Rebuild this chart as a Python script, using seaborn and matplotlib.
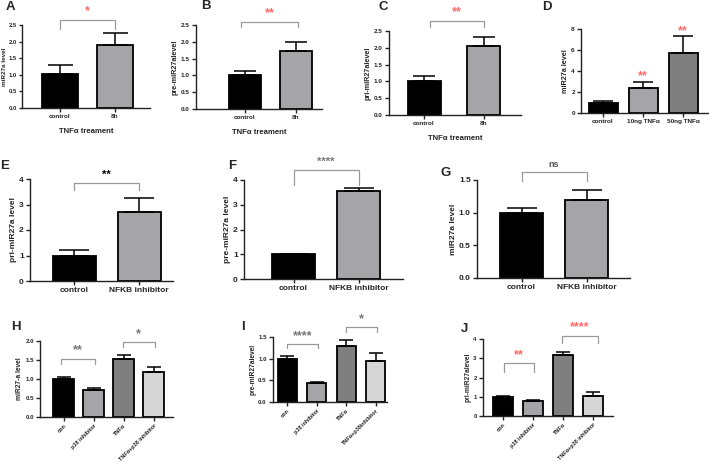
import numpy as np
import matplotlib
matplotlib.use("Agg")
import matplotlib.pyplot as plt
import seaborn as sns

sns.set_style("ticks")
plt.rcParams["font.family"] = ["Liberation Sans", "DejaVu Sans"]
plt.rcParams["font.weight"] = "bold"
plt.rcParams["axes.labelweight"] = "bold"

W, H = 709, 462

# ---------------- data ----------------
cats_2 = ["control", "8h"]
a_vals = [1.02, 1.90]; a_err = [0.27, 0.37]
b_vals = [1.00, 1.73]; b_err = [0.13, 0.25]
c_vals = [1.00, 2.05]; c_err = [0.15, 0.27]

cats_d = ["control", "10ng TNFα", "50ng TNFα"]
d_vals = [1.00, 2.40, 5.70]; d_err = [0.15, 0.55, 1.60]

cats_nf = ["control", "NFKB inhibitor"]
e_vals = [1.00, 2.70]; e_err = [0.20, 0.55]
f_vals = [1.00, 3.57]; f_err = [0.03, 0.12]
g_vals = [1.00, 1.20]; g_err = [0.07, 0.14]

cats_h = ["con", "p38 inhibitor", "TNFα", "TNFα+p38 inhibitor"]
cats_i = ["con", "p38 inhibitor", "TNFα", "TNFα+p38inhibitor"]
h_vals = [1.00, 0.70, 1.52, 1.18]; h_err = [0.06, 0.06, 0.10, 0.13]
i_vals = [1.00, 0.43, 1.30, 0.95]; i_err = [0.06, 0.03, 0.13, 0.19]
j_vals = [1.00, 0.77, 3.17, 1.03]; j_err = [0.05, 0.04, 0.15, 0.20]

BLACK = "#000000"
GRAY = "#a5a5a8"
DARK = "#7f7f80"
LIGHT = "#d6d6d6"
RED = "#ff6b6b"
BRK = "#9a9a9a"

fig = plt.figure(figsize=(W / 100, H / 100), dpi=100)


def panel(x0, x1, y0, ytop, centers, wpx, cats, vals, errs, colors, ymax,
          yticks, fmt, ylabel, xlabel=None, fs=4.6, lfs=5.2, rot=False,
          brackets=(), stars=(), sfs=9, ylx=None, yfs=None, tlen=3, tpad=1.5):
    rect = [x0 / W, 1 - y0 / H, (x1 - x0) / W, (y0 - ytop) / H]
    ax = fig.add_axes(rect)
    n = len(cats)
    unit = (centers[-1] - centers[0]) / (n - 1)
    left = -(centers[0] - x0) / unit
    right = (n - 1) + (x1 - centers[-1]) / unit
    bw = wpx / unit
    sns.barplot(x=cats, y=vals, hue=cats, palette=colors, legend=False,
                width=bw, edgecolor="black", linewidth=1.3, ax=ax,
                errorbar=None, saturation=1)
    ax.errorbar(np.arange(n), vals, yerr=[np.zeros(n), errs], fmt="none",
                ecolor="black", elinewidth=1.1, capsize=wpx * 0.25,
                capthick=1.1, zorder=1)
    ax.set_xlim(left, right)
    ax.set_ylim(0, ymax)
    ax.set_yticks(yticks)
    ax.set_yticklabels([fmt.format(t) for t in yticks],
                       fontsize=yfs if yfs else fs, fontweight="bold")
    ax.set_xticks(np.arange(n))
    if rot:
        ax.set_xticklabels(cats, fontsize=fs - 0.4, fontweight="bold",
                           rotation=45, ha="right", rotation_mode="anchor")
    else:
        ax.set_xticklabels(cats, fontsize=fs, fontweight="bold")
    ax.set_ylabel(ylabel, fontsize=lfs, fontweight="bold", labelpad=1.5)
    if ylx is not None:
        ax.yaxis.set_label_coords((ylx - x0) / (x1 - x0), 0.5)
        ax.yaxis.label.set_va("center")
    if xlabel:
        ax.set_xlabel(xlabel, fontsize=fs + 1, fontweight="bold", labelpad=6)
    else:
        ax.set_xlabel("")
    for s in ["top", "right"]:
        ax.spines[s].set_visible(False)
    for s in ["left", "bottom"]:
        ax.spines[s].set_linewidth(1.0)
        ax.spines[s].set_color("#222222")
    ax.tick_params(axis="both", length=3, width=1.0, pad=1.5)
    ax.tick_params(axis="y", length=tlen, pad=tpad)
    for (i1, i2, yb, yt, txt, col) in brackets:
        ax.plot([i1, i1, i2, i2], [yt, yb, yb, yt], color=BRK, lw=0.9,
                clip_on=False)
        ax.text((i1 + i2) / 2, yb + (ymax * 0.03), txt, ha="center",
                va="bottom", color=col, fontsize=sfs, clip_on=False)
    for (i, y, txt, col) in stars:
        ax.text(i, y, txt, ha="center", va="center", color=col,
                fontsize=sfs, clip_on=False)
    return ax


# Row 1
panel(22, 150, 108, 25, [60, 114.5], 36, cats_2, a_vals, a_err,
      [BLACK, GRAY], 2.5, [0, 0.5, 1, 1.5, 2, 2.5], "{:.1f}", "miR27a level",
      xlabel="TNFα treament", lfs=4.6, ylx=4.5, yfs=4.2, tlen=2.5, tpad=1,
      brackets=[(0, 1, 2.65, 2.38, "*", RED)])
panel(196, 322, 109, 25, [245, 295.5], 32, cats_2, b_vals, b_err,
      [BLACK, GRAY], 2.5, [0, 0.5, 1, 1.5, 2, 2.5], "{:.1f}", "pre-miR27alevel",
      xlabel="TNFα treament",
      brackets=[(-0.07, 1.05, 2.59, 2.44, "**", RED)])
panel(389, 521, 115, 31, [424, 483.5], 33, cats_2, c_vals, c_err,
      [BLACK, GRAY], 2.5, [0, 0.5, 1, 1.5, 2, 2.5], "{:.1f}", "pri-miR27alevel",
      xlabel="TNFα treament",
      brackets=[(0.1, 1.0, 2.8, 2.62, "**", RED)])
panel(581, 708, 113, 29, [603, 642, 683], 29, cats_d, d_vals, d_err,
      [BLACK, GRAY, DARK], 8, [0, 2, 4, 6, 8], "{:d}", "miR27a level",
      stars=[(1, 3.55, "**", RED), (2, 7.75, "**", RED)])

# Row 2
panel(30, 173, 281, 179, [74, 139], 43, cats_nf, e_vals, e_err,
      [BLACK, GRAY], 4, [0, 1, 2, 3, 4], "{:d}", "pri-miR27a level", fs=6.0,
      lfs=6.0, brackets=[(0, 1, 3.84, 3.57, "**", "black")], sfs=8)
panel(244, 403, 279, 180, [293.5, 358.5], 43, cats_nf, f_vals, f_err,
      [BLACK, GRAY], 4, [0, 1, 2, 3, 4], "{:d}", "pre-miR27a level", fs=6.0,
      lfs=6.0, brackets=[(0, 1, 4.4, 3.8, "****", "#777777")], sfs=8)
panel(477, 630, 278, 180, [521.5, 586.5], 43, cats_nf, g_vals, g_err,
      [BLACK, GRAY], 1.5, [0, 0.5, 1.0, 1.5], "{:.1f}", "miR27a level", fs=6.0,
      lfs=6.0, brackets=[(0, 1, 1.62, 1.49, "ns", "#555555")], sfs=6.5)

# Row 3
panel(40, 173, 417, 341, [63.5, 94.5, 124, 153.5], 21, cats_h, h_vals, h_err,
      [BLACK, GRAY, DARK, LIGHT], 2.0, [0, 0.5, 1.0, 1.5, 2.0], "{:.1f}",
      "miR27-a level", rot=True, fs=4.4, lfs=4.8,
      brackets=[(-0.08, 1.05, 1.53, 1.39, "**", "#777777"),
                (1.97, 3.05, 1.97, 1.84, "*", "#777777")])
panel(273, 387, 402, 337, [287, 316.5, 346.5, 375.5], 19, cats_i, i_vals,
      i_err, [BLACK, GRAY, DARK, LIGHT], 1.5, [0, 0.5, 1.0, 1.5], "{:.1f}",
      "pre-miR27alevel", rot=True, fs=4.4, lfs=4.8,
      brackets=[(0, 1.05, 1.34, 1.25, "****", "#777777"),
                (2.0, 3.05, 1.73, 1.62, "*", "#777777")])
panel(483, 613, 416, 339, [503, 533, 563, 593], 20, cats_h, j_vals, j_err,
      [BLACK, GRAY, DARK, LIGHT], 4, [0, 1, 2, 3, 4], "{:d}",
      "pri-miR27alevel", rot=True, fs=4.4, lfs=4.8,
      brackets=[(0.03, 1.03, 2.75, 2.29, "**", RED),
                (1.97, 3.17, 4.16, 3.8, "****", RED)])

# Panel letters
letters = ["A", "B", "C", "D", "E", "F", "G", "H", "I", "J"]
lx = [10, 206, 383, 547, 5, 232, 446, 16, 243, 464]
ly = [7, 6, 7, 7, 166, 166, 173, 327, 327, 329]
for t, x, y in zip(letters, lx, ly):
    fig.text(x / W, 1 - y / H, t, ha="center", va="center", fontsize=9.5,
             fontweight="bold")

fig.savefig("out.png", dpi=100)
